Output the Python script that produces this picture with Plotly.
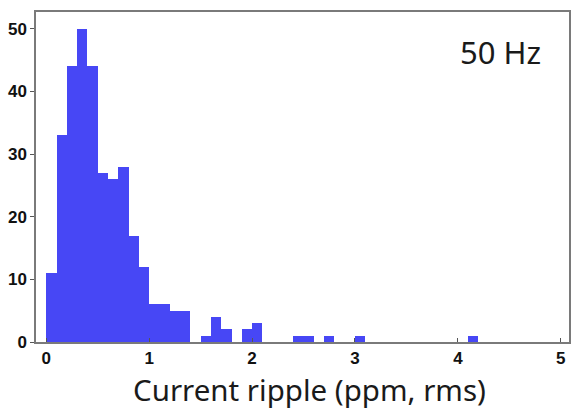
import numpy as np
import plotly.graph_objects as go

bin_width = 0.1
bin_starts = [round(i * bin_width, 1) for i in range(42)]
counts = [11, 33, 44, 50, 44, 27, 26, 28, 17, 12,
          6, 6, 5, 5, 0, 1, 4, 2, 0, 2,
          3, 0, 0, 0, 1, 1, 0, 1, 0, 0,
          1, 0, 0, 0, 0, 0, 0, 0, 0, 0,
          0, 1]
x_ticks = [0, 1, 2, 3, 4, 5]
y_ticks = [0, 10, 20, 30, 40, 50]
x_title = "Current ripple (ppm, rms)"
label = "50 Hz"

centers = [s + bin_width / 2 for s in bin_starts]

fig = go.Figure(go.Bar(
    x=centers, y=counts, width=bin_width,
    marker=dict(color="#4747f5", line=dict(width=0)),
))

axis_line = dict(showline=True, linecolor="#7a7a7a", linewidth=1.5, mirror=True,
                 showgrid=False, zeroline=False, automargin=False)
tickfont = dict(family="Liberation Sans", size=17, color="#111", weight="bold")

fig.update_xaxes(range=[-0.1, 5.08], tickvals=x_ticks, ticks="inside", ticklen=4,
                 tickcolor="#555", tickfont=tickfont, **axis_line)
fig.update_yaxes(range=[0, 52.7], tickvals=y_ticks, ticks="outside", ticklen=4,
                 tickcolor="#555", tickfont=tickfont, **axis_line)

fig.add_annotation(text=x_title, xref="paper", yref="paper", x=0.514, y=-0.145,
                   xanchor="center", yanchor="middle", showarrow=False,
                   font=dict(family="Noto Sans", size=29.5, color="#1a1a1a"))
fig.add_annotation(text=label, xref="paper", yref="paper", x=0.872, y=0.879,
                   xanchor="center", yanchor="middle", showarrow=False,
                   font=dict(family="Noto Sans", size=31, color="#1a1a1a"))

fig.update_layout(width=571, height=415, margin=dict(l=36, r=2, t=12, b=73),
                  paper_bgcolor="white", plot_bgcolor="white", bargap=0,
                  showlegend=False)
# remove the default page margin so the 571x415 figure fills the window exactly
fig.write_html("out.html",
               config={"displayModeBar": False},
               post_script="document.body.style.margin='0';document.body.style.overflow='hidden';")
